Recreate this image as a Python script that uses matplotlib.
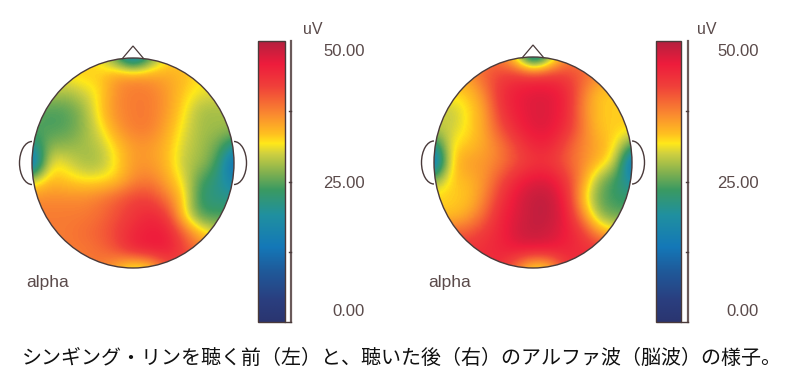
import matplotlib
matplotlib.use('Agg')
import matplotlib.pyplot as plt
import numpy as np
from matplotlib.colors import LinearSegmentedColormap
from matplotlib.patches import Ellipse, Arc, Polygon, Rectangle

# scalp maps (uV), 13 x 13 grid over the head, top row first
left_map = [
    [33, 33, 33, 33, 31, 24, 12, 24, 32, 33, 33, 33, 33],
    [33, 33, 32, 33, 33, 36, 37, 36, 35, 34, 32, 32, 32],
    [29, 29, 28, 30, 32, 37, 38, 38, 36, 33, 31, 31, 31],
    [25, 24, 24.5, 27, 33, 37, 38, 38, 36, 32, 28, 28, 28],
    [25, 24, 24.5, 27, 31, 36, 38, 38, 35, 31, 28, 28, 28],
    [20, 27, 27, 28, 29, 33, 36, 36, 34, 30, 28, 26, 20],
    [10, 32, 31, 28, 28, 32, 36, 36, 34, 29, 28, 24, 10],
    [30, 34, 33, 32, 32, 33, 37, 38, 35, 31, 24, 21, 15],
    [37, 37, 37, 37, 38, 40, 42, 42, 38, 33, 22, 21, 21],
    [38, 38, 38, 38, 39, 41, 43, 45, 43, 32, 24, 24, 24],
    [38, 38, 38, 39, 40, 42, 45, 46, 46, 40, 34, 30, 30],
    [38, 38, 38, 38, 39, 41, 45, 46, 46, 42, 38, 38, 38],
    [38, 38, 38, 38, 38, 34, 29, 31, 40, 42, 42, 42, 42],
]
right_map = [
    [38, 38, 38, 38, 38, 30, 12, 26, 37, 38, 38, 38, 38],
    [36, 36, 36, 40, 42, 43, 43, 43, 42, 40, 37, 37, 37],
    [33, 33, 33, 37, 44, 46, 47, 47, 45, 38, 33, 33, 33],
    [30, 29, 32, 35, 43, 46, 47, 47, 45, 37, 33, 33, 33],
    [30, 29.5, 32, 35, 41, 45, 47, 47, 44, 38, 33, 33, 33],
    [20, 32, 33, 35, 38, 42, 45, 45, 41, 37, 35, 32, 24],
    [10, 33, 36, 36, 38, 41, 43, 43, 40, 37, 34, 30, 10],
    [27, 33, 34, 36, 41, 45, 47, 47, 43, 36, 27, 23, 17],
    [33, 33, 33, 37, 43, 47, 49, 49, 45, 33, 25, 23, 23],
    [33, 33, 35, 39, 45, 47, 49, 49, 46, 37, 27, 25, 25],
    [40, 40, 40, 43, 45, 48, 49, 48, 46, 43, 36, 33, 33],
    [44, 44, 44, 44, 45, 46, 46, 46, 45, 44, 44, 44, 44],
    [44, 44, 44, 44, 44, 37, 30, 32, 43, 44, 44, 44, 44],
]
scale_ticks = [50.0, 25.0, 0.0]
scale_labels = ['50.00', '25.00', '0.00']
minor_ticks = [37.5, 25.0, 12.5]
caption = 'シンギング・リンを聴く前（左）と、聴いた後（右）のアルファ波（脳波）の様子。'

stops = [
    (0, '#2a3570'), (4, '#2a3f80'), (9, '#1f5a9a'), (13.3, '#1478b8'),
    (19, '#2090a0'), (23.5, '#3a9a62'), (26.5, '#80b050'), (30, '#d0d040'),
    (31.8, '#ffe81a'), (33.5, '#ffc020'), (37, '#fa8a30'), (42, '#f0403a'),
    (46, '#ee1c3c'), (50, '#b5203f'),
]
cmap = LinearSegmentedColormap.from_list('eeg', [(v / 50, c) for v, c in stops], N=256)

line_col = '#4a3a3a'
text_col = '#5a4a4a'

W, H = 788, 390
fig = plt.figure(figsize=(W / 100, H / 100), dpi=100)
ax = fig.add_axes([0, 0, 1, 1])


def draw_head(values, cx, cy, rx, ry, label_x):
    cell_x = rx / 6
    cell_y = ry / 6
    im = ax.imshow(values, cmap=cmap, vmin=0, vmax=50, interpolation='bicubic',
                   extent=[cx - rx - cell_x / 2, cx + rx + cell_x / 2,
                           cy + ry + cell_y / 2, cy - ry - cell_y / 2],
                   aspect='auto', zorder=1)
    clip = Ellipse((cx, cy), 2 * rx, 2 * ry, transform=ax.transData)
    im.set_clip_path(clip)
    ax.add_patch(Ellipse((cx, cy), 2 * rx, 2 * ry, fill=False, ec=line_col, lw=1.0, zorder=3))
    # nose and ears
    ax.add_patch(Polygon([(cx - 11, cy - ry + 1), (cx, cy - ry - 12), (cx + 11, cy - ry + 1)],
                         closed=False, fill=False, ec=line_col, lw=0.9, zorder=2))
    ax.add_patch(Arc((cx - rx, cy), 25, 43, theta1=90, theta2=270, ec=line_col, lw=1.0, zorder=2))
    ax.add_patch(Arc((cx + rx, cy), 25, 43, theta1=-90, theta2=90, ec=line_col, lw=1.0, zorder=2))
    ax.text(label_x, 283, 'alpha', fontsize=12.5, color=text_col, family='Liberation Sans',
            ha='left', va='center')


def draw_scale(x0, x1, line_x, label_right):
    top, bottom = 41, 322
    grad = np.linspace(50, 0, 256).reshape(-1, 1)
    ax.imshow(grad, cmap=cmap, vmin=0, vmax=50, extent=[x0, x1, bottom, top],
              aspect='auto', interpolation='bilinear', zorder=1)
    ax.add_patch(Rectangle((x0, top), x1 - x0, bottom - top, fill=False, ec=line_col, lw=1.0, zorder=3))
    ax.plot([line_x, line_x], [top, bottom], color='#6a5a5a', lw=1.6, zorder=3)
    ax.plot([x1, line_x], [bottom, bottom], color=line_col, lw=1.0, zorder=3)
    for t in minor_ticks:
        y = bottom - (bottom - top) * t / 50
        ax.plot([line_x - 2, line_x], [y, y], color=line_col, lw=1.0, zorder=3)
    for t, lab in zip(scale_ticks, scale_labels):
        y = bottom - (bottom - top) * t / 50
        y = min(max(y, top + 9.5), bottom - 11.5) + 1.5
        ax.text(label_right, y, lab, fontsize=12, color=text_col, family='Liberation Sans',
                ha='right', va='center')
    ax.text(label_right - 62, 30, 'uV', fontsize=11.5, color=text_col, family='Liberation Sans',
            ha='left', va='center')


draw_head(left_map, 133, 163, 101, 105, 26)
draw_head(right_map, 533, 162.5, 99, 105.5, 428)
draw_scale(258, 285, 291, 365)
draw_scale(656, 681, 688, 759)

ax.text(402, 358, caption, fontsize=14.4, color='#111111',
        family=['Noto Sans CJK JP', 'DejaVu Sans'], ha='center', va='center')

ax.set_xlim(0, W)
ax.set_ylim(H, 0)
ax.axis('off')
fig.savefig('out.png', dpi=100, facecolor='white')
